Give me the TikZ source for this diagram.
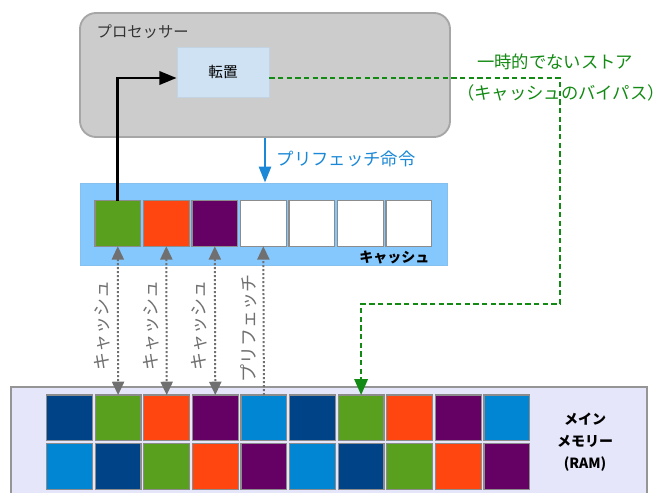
\documentclass[tikz,border=0pt]{standalone}
\usepackage{fontspec}
\setmainfont{Noto Sans CJK JP}
\usetikzlibrary{arrows.meta,positioning}

\definecolor{procfill}{HTML}{CCCCCC}
\definecolor{procline}{HTML}{A6A6A6}
\definecolor{transfill}{HTML}{CFE2F3}
\definecolor{cachefill}{HTML}{85C8FD}
\definecolor{memfill}{HTML}{E6E6FA}
\definecolor{cellline}{HTML}{8C8C8C}
\definecolor{cgreen}{HTML}{58A01E}
\definecolor{cred}{HTML}{FF4610}
\definecolor{cpurple}{HTML}{650065}
\definecolor{cnavy}{HTML}{004386}
\definecolor{cblue}{HTML}{0086D3}
\definecolor{prefblue}{HTML}{1A88D6}
\definecolor{bypassgreen}{HTML}{138A13}
\definecolor{labelgray}{HTML}{707070}

\begin{document}
\begin{tikzpicture}[
  x=0.75pt, y=-0.75pt,
  font=\fontsize{10}{12}\selectfont,
  cell/.style={draw=cellline, line width=0.9pt, inner sep=0pt, outer sep=0pt, minimum width=34.3pt, minimum height=34.1pt},
  proc/.style={draw=procline, line width=1.4pt, fill=procfill, rounded corners=12pt, minimum width=277.5pt, minimum height=93pt},
  trans/.style={draw=transfill!85!gray, line width=0.6pt, fill=transfill, minimum width=69pt, minimum height=37.5pt},
  cachebox/.style={fill=cachefill, draw=cachefill!90!gray, line width=0.6pt, minimum width=275.25pt, minimum height=61.5pt},
  membox/.style={fill=memfill, draw=procline!90!black, line width=1.4pt, minimum width=477pt, minimum height=84.75pt},
  vlabel/.style={rotate=90, text=labelgray, font=\fontsize{13.5}{15}\selectfont},
  cachearr/.style={draw=labelgray, line width=1.5pt, dash pattern=on 1.5pt off 1.5pt, {Triangle[length=10pt,width=9pt]}-{Triangle[length=10pt,width=9pt]}},
  fetcharr/.style={draw=labelgray, line width=1.5pt, dash pattern=on 1.5pt off 1.5pt, -{Triangle[length=10pt,width=9pt]}},
  loadarr/.style={draw=black, line width=2.1pt, -{Triangle[length=13pt,width=10pt]}},
  prefarr/.style={draw=prefblue, line width=2pt, -{Triangle[length=12pt,width=9pt]}},
  bypass/.style={draw=bypassgreen, line width=1.8pt, dash pattern=on 4pt off 2.5pt, -{Triangle[length=12pt,width=10pt]}},
  greenlabel/.style={text=bypassgreen, inner sep=1pt, font=\fontsize{13}{15}\selectfont}
]
\useasboundingbox (0,0) rectangle (663,492);

% processor
\node[proc] (pr) at (265,75) {};
\node[anchor=west, text=black!80, font=\fontsize{11.5}{13}\selectfont] (prl) at (92,32) {プロセッサー};
\node[trans] (tr) at (223,72) {\fontsize{11}{13}\selectfont 転置};

% cache
\node[cachebox] (ca) at (263.5,224) {};
\foreach \i/\c in {1/cgreen,2/cred,3/cpurple,4/white,5/white,6/white,7/white}
  \node[cell, fill=\c] (c\i) at ({117.8+48.5*(\i-1)},223.5) {};
\node[anchor=east, font=\fontsize{10.5}{12}\selectfont\bfseries] (cal) at (434,257) {キャッシュ};

% main memory
\node[membox] (mem) at (329,443.5) {};
\foreach \i/\c in {1/cnavy,2/cgreen,3/cred,4/cpurple,5/cblue,6/cnavy,7/cgreen,8/cred,9/cpurple,10/cblue}
  \node[cell, fill=\c] (m\i) at ({69.5+48.6*(\i-1)},417.8) {};
\foreach \i/\c in {1/cblue,2/cnavy,3/cgreen,4/cred,5/cpurple,6/cblue,7/cnavy,8/cgreen,9/cred,10/cpurple}
  \node[cell, fill=\c] (n\i) at ({69.5+48.6*(\i-1)},466.5) {};
\node[align=center, font=\fontsize{10.5}{16.5}\selectfont\bfseries] (meml) at (585,442) {メイン\\メモリー\\(RAM)};

% cache <-> memory
\draw[cachearr] (c1.south) -- (m2.north);
\draw[cachearr] (c2.south) -- (m3.north);
\draw[cachearr] (c3.south) -- (m4.north);
\draw[fetcharr] (m5.north) -- (c4.south);
\node[vlabel] (l1) at (102,325) {キャッシュ};
\node[vlabel] (l2) at (151,325) {キャッシュ};
\node[vlabel] (l3) at (199,325) {キャッシュ};
\node[vlabel] (l4) at (249,328) {プリフェッチ};

% prefetch instruction
\draw[prefarr] (pr.south) -- (pr.south |- ca.north);
\node[anchor=west, text=prefblue, font=\fontsize{13}{15}\selectfont] (pfl) at (272,159) {プリフェッチ命令};

% load into processor
\draw[loadarr] (c1.north) |- ([yshift=-4.5pt]tr.west);

% non-temporal store
\draw[bypass] ([yshift=-4.5pt]tr.east) -| (560,304) -| (m7.north);
\node[greenlabel] (ntl) at (555,62) {一時的でないストア};
\node[greenlabel] (ntm) at (561,93) {（キャッシュのバイパス）};
\end{tikzpicture}
\end{document}
